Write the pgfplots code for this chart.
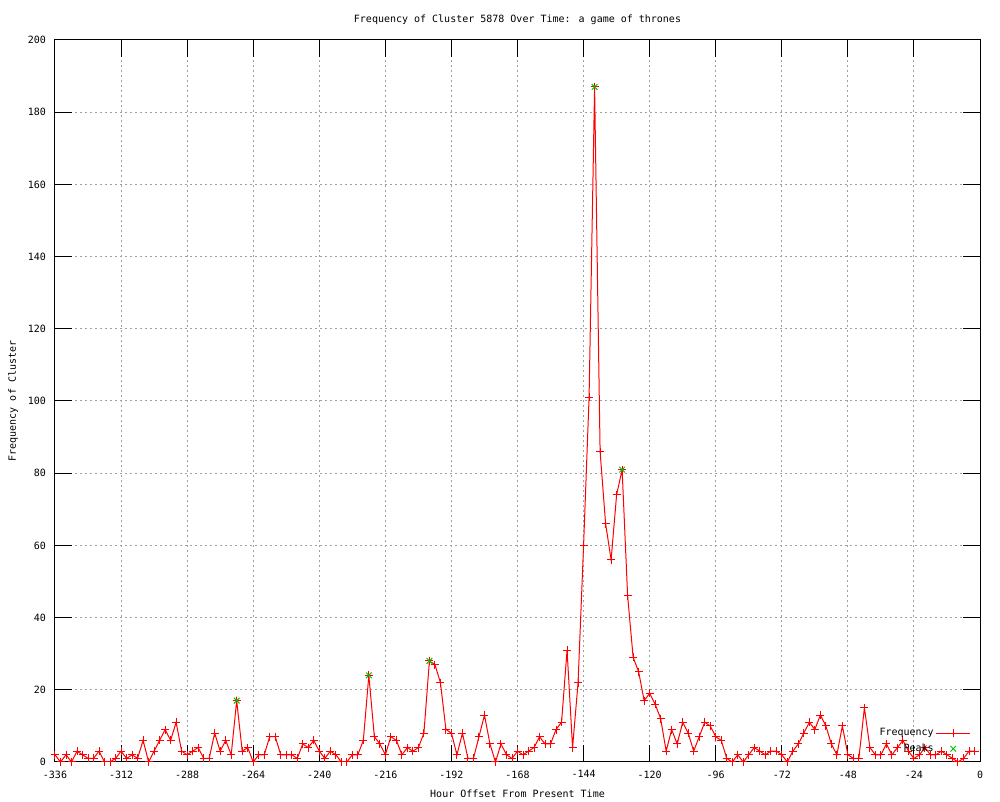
\documentclass[border=0pt]{standalone}
\usepackage{pgfplots}
\usepackage{pgfplotstable}
\pgfplotsset{compat=1.18}
\usepackage{fontspec}
\setmainfont{DejaVu Sans Mono}
\definecolor{gpgreen}{RGB}{0,192,0}
\definecolor{gpgrid}{RGB}{160,160,160}
\pgfplotstableread{
h f
-336 2
-334 0
-332 2
-330 0
-328 3
-326 2
-324 1
-322 1
-320 3
-318 0
-316 0
-314 1
-312 3
-310 1
-308 2
-306 1
-304 6
-302 0
-300 3
-298 6
-296 9
-294 6
-292 11
-290 3
-288 2
-286 3
-284 4
-282 1
-280 1
-278 8
-276 3
-274 6
-272 2
-270 17
-268 3
-266 4
-264 0
-262 2
-260 2
-258 7
-256 7
-254 2
-252 2
-250 2
-248 1
-246 5
-244 4
-242 6
-240 3
-238 1
-236 3
-234 2
-232 0
-230 0
-228 2
-226 2
-224 6
-222 24
-220 7
-218 5
-216 2
-214 7
-212 6
-210 2
-208 4
-206 3
-204 4
-202 8
-200 28
-198 27
-196 22
-194 9
-192 8
-190 2
-188 8
-186 1
-184 1
-182 7
-180 13
-178 5
-176 0
-174 5
-172 2
-170 1
-168 3
-166 2
-164 3
-162 4
-160 7
-158 5
-156 5
-154 9
-152 11
-150 31
-148 4
-146 22
-144 60
-142 101
-140 187
-138 86
-136 66
-134 56
-132 74
-130 81
-128 46
-126 29
-124 25
-122 17
-120 19
-118 16
-116 12
-114 3
-112 9
-110 5
-108 11
-106 8
-104 3
-102 7
-100 11
-98 10
-96 7
-94 6
-92 1
-90 0
-88 2
-86 0
-84 2
-82 4
-80 3
-78 2
-76 3
-74 3
-72 2
-70 0
-68 3
-66 5
-64 8
-62 11
-60 9
-58 13
-56 10
-54 5
-52 2
-50 10
-48 2
-46 1
-44 1
-42 15
-40 4
-38 2
-36 2
-34 5
-32 2
-30 4
-28 6
-26 3
-24 1
-22 2
-20 4
-18 2
-16 2
-14 3
-12 2
-10 1
-8 0
-6 1
-4 3
-2 3
}\freqdata
\pgfplotstableread{
h f
-270 17
-222 24
-200 28
-140 187
-130 81
}\peakdata
\begin{document}
\begin{tikzpicture}
\useasboundingbox (-27.5pt,-20pt) rectangle (472.5pt,381pt);
\begin{axis}[
  at={(0,0)}, anchor=south west,
  scale only axis, width=462.5pt, height=361pt,
  xmin=-336, xmax=0, ymin=0, ymax=200,
  xtick={-336,-312,...,0}, ytick={0,20,...,200},
  grid=major,
  major grid style={gpgrid, dash pattern=on 1pt off 1.5pt, line width=0.5pt},
  axis line style={line width=0.5pt},
  tick style={black, line width=0.5pt},
  major tick length=8.5pt,
  tick align=inside,
  font=\fontsize{5}{6}\selectfont,
  /pgf/number format/assume math mode=true,
  /pgf/number format/1000 sep={},
  xticklabel style={font=\fontsize{5}{6}\selectfont, yshift=-0.8pt},
  yticklabel style={font=\fontsize{5}{6}\selectfont, xshift=-1pt},
  title={Frequency of Cluster 5878 Over Time: a game of thrones},
  title style={at={(axis description cs:0.5,1)}, anchor=center, yshift=4pt, font=\fontsize{5}{6}\selectfont},
  xlabel={Hour Offset From Present Time},
  xlabel style={at={(axis description cs:0.5,-0.0443)}, anchor=center, font=\fontsize{5}{6}\selectfont},
  ylabel={Frequency of Cluster},
  ylabel style={at={(axis description cs:-0.0454,0.5)}, anchor=center, rotate=0, font=\fontsize{5}{6}\selectfont},
  legend plot pos=right,
  legend cell align=right,
  legend style={at={(rel axis cs:0.997,0.056)}, anchor=north east, draw=none, fill=none,
    font=\fontsize{5}{6}\selectfont, nodes={inner sep=1pt}, row sep=0.6pt},
]
\addplot[red, line width=0.5pt, mark=+, mark size=2pt, mark options={solid, line width=0.5pt}] table[x=h,y=f] {\freqdata};
\addlegendentry{Frequency}
\addplot[gpgreen, only marks, mark=x, mark size=2pt, mark options={line width=0.5pt}] table[x=h,y=f] {\peakdata};
\addlegendentry{Peaks}
\end{axis}
\end{tikzpicture}
\end{document}
